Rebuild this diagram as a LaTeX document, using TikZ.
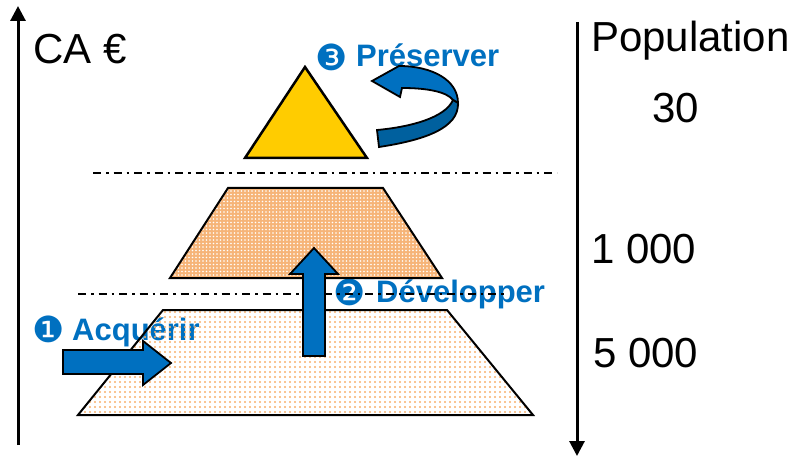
\documentclass[tikz,border=0pt]{standalone}
\usepackage{fontspec}
\setmainfont{Liberation Sans}
\newfontfamily\dingfont{DejaVu Sans}
\usetikzlibrary{arrows.meta, positioning, patterns}

\definecolor{caBlue}{RGB}{0,112,192}
\definecolor{caDark}{RGB}{0,96,158}
\definecolor{pyrGold}{RGB}{255,204,0}
\definecolor{pyrOrange}{RGB}{246,180,120}
\definecolor{dotOrange}{RGB}{247,176,108}

% dot fills of the pyramid layers
\pgfdeclarepatternformonly{sparsedots}{\pgfqpoint{-1.5pt}{-1.5pt}}{\pgfqpoint{1.5pt}{1.5pt}}{\pgfqpoint{5pt}{5pt}}{%
  \pgfpathcircle{\pgfqpoint{0pt}{0pt}}{1.2pt}\pgfusepath{fill}}
\pgfdeclarepatternformonly{finedots}{\pgfqpoint{-1pt}{-1pt}}{\pgfqpoint{1pt}{1pt}}{\pgfqpoint{3.5pt}{3.5pt}}{%
  \pgfpathcircle{\pgfqpoint{0pt}{0pt}}{0.8pt}\pgfusepath{fill}}

\begin{document}
\begin{tikzpicture}[x=1pt, y=-1pt,
  axis/.style={line width=3pt, -{Triangle[width=15pt, length=15pt]}},
  layer/.style={draw, line width=2pt, line join=miter},
  sep/.style={line width=2.5pt, dash pattern=on 8pt off 5pt on 2.5pt off 5pt},
  blockarr/.style={draw, line width=1.8pt, fill=caBlue, line join=miter},
  big/.style={inner sep=0pt, font=\fontsize{42}{50}\selectfont},
  lbl/.style={inner sep=0pt, text=caBlue, font=\fontsize{31}{37}\selectfont\bfseries},
  num/.style={inner sep=0pt, text=caBlue, font=\dingfont\fontsize{36}{40}\selectfont}
]
\useasboundingbox (0,0) rectangle (795,457);

% axes
\coordinate (caBot) at (18,445);
\coordinate (caTop) at (18,6);
\coordinate (popTop) at (577,22);
\coordinate (popBot) at (577,456);
\draw[axis] (caBot) -- (caTop);
\draw[axis] (popTop) -- (popBot);

\node[big, anchor=base west] (ca) at (33,64) {CA €};
\node[big, anchor=base west] (pop) at (591,52) {Population};
\node[big, anchor=base west] (n30) at (652,123) {30};
\node[big, anchor=base west] (n1k) at (591,263) {1 000};
\node[big, anchor=base west] (n5k) at (593,367) {5 000};

% steps
\node[num] (d3) at (332,57) {❸};
\node[lbl, anchor=base west] (pres) at (356,67) {Préserver};
\node[num] (d2) at (350,292) {❷};
\node[lbl, anchor=base west] (dev) at (376,302) {Développer};
\node[num] (d1) at (49,329) {❶};
\node[lbl, anchor=base west] (acq) at (72,340) {Acquérir};

% pyramid
\path[layer, pattern=sparsedots, pattern color=dotOrange] (78,415) -- (163,310) -- (447,310) -- (533,415) -- cycle;
\fill[pyrOrange] (170,278) -- (228,188) -- (383,188) -- (442,278) -- cycle;
\path[layer, pattern=finedots, pattern color=white] (170,278) -- (228,188) -- (383,188) -- (442,278) -- cycle;
\path[layer, fill=pyrGold, line width=2.5pt] (245,158) -- (305,67) -- (367,158) -- cycle;

\coordinate (sepAL) at (93,173);
\coordinate (sepAR) at (557,173);
\coordinate (sepBL) at (78,294);
\coordinate (sepBR) at (505,294);
\draw[sep] (sepAL) -- (sepAR);
\draw[sep] (sepBL) -- (sepBR);

% arrows
\path[blockarr] (63,350) -- (143,350) -- (143,341) -- (171,363) -- (143,385) -- (143,374) -- (63,374) -- cycle;
\path[blockarr] (303,356) -- (303,274) -- (290,274) -- (314,248) -- (338,274) -- (325,274) -- (325,356) -- cycle;
\path[blockarr] (372,81) -- (399,66) .. controls (432,66) and (458,80) .. (458,103) -- (453,100)
  .. controls (447,92) and (428,88) .. (402,88) -- (400,97) -- cycle;
\path[blockarr, fill=caDark] (458,103) .. controls (459,128) and (425,140) .. (379,147) -- (377,130)
  .. controls (410,127) and (445,118) .. (453,100) -- cycle;

\end{tikzpicture}
\end{document}
